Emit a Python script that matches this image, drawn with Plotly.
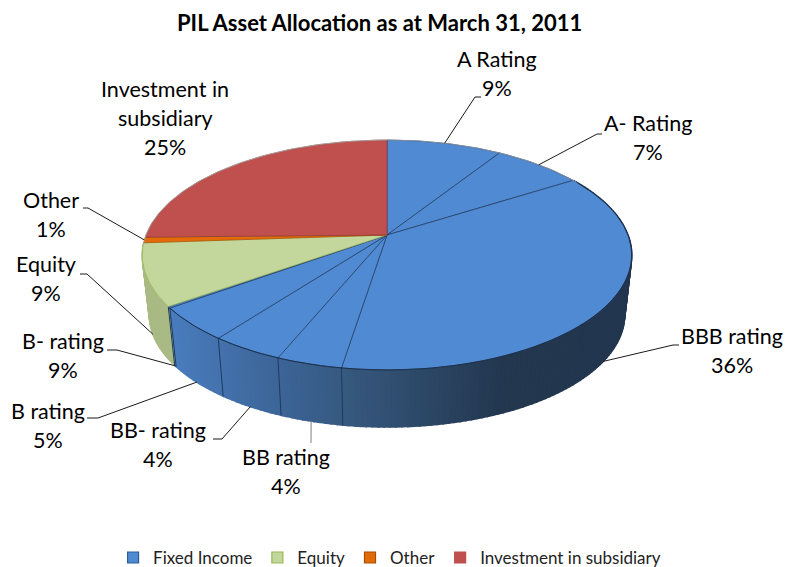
import numpy as np
import plotly.graph_objects as go

# ---- data ----
slices = ["A Rating", "A- Rating", "BBB rating", "BB rating", "BB- rating",
          "B rating", "B- rating", "Equity", "Other", "Investment in subsidiary"]
# drawn sizes of the slices (% of the circle)
values = [9.0, 7.0, 36.5, 3.7, 4.1, 4.7, 0.2, 8.7, 0.8, 25.3]
# the percentages printed on the labels (as printed in the source)
printed = ["9%", "7%", "36%", "4%", "4%", "5%", "9%", "9%", "1%", "25%"]
groups = ["Fixed Income", "Fixed Income", "Fixed Income", "Fixed Income", "Fixed Income",
          "Fixed Income", "Fixed Income", "Equity", "Other", "Investment in subsidiary"]
legend_names = ["Fixed Income", "Equity", "Other", "Investment in subsidiary"]
title_text = "PIL Asset Allocation as at March 31, 2011"

# ---- styles ----
top_color = {"Fixed Income": "#508AD3", "Equity": "#C3D69B", "Other": "#E36C0A",
             "Investment in subsidiary": "#C0504D"}
edge_color = {"Fixed Income": "#2F5C94", "Equity": "#98B954", "Other": "#A84F07",
              "Investment in subsidiary": "#8C3836"}
FONT = "Lato"

# ---- layout of the projected disc ----
CX, CY, A_TOP, B_TOP = 387.0, 235.0, 241.0, 111.5
CY_LOW, A_LOW, B_LOW = 295.5, 234.0, 108.6
K = 0.174

label_layout = {  # label centre x, first-line y, elbow points, line height 29
    "A Rating": (497, 59, [(475, 97), (481, 97)]),
    "A- Rating": (648, 123, [(597, 134), (602, 134)]),
    "BBB rating": (732, 336, [(673, 345), (679, 345)]),
    "BB rating": (286, 457, [(311, 443)]),
    "BB- rating": (158, 430, [(222, 439), (213, 439)]),
    "B rating": (48, 411, [(98, 418), (87, 418)]),
    "B- rating": (63, 341, [(117, 350), (107, 350)]),
    "Equity": (46, 264, [(87, 274), (80, 274)]),
    "Other": (51, 200, [(88, 208), (83, 208)]),
    "Investment in subsidiary": (165, 89, []),
}
label_lines = {"Investment in subsidiary": ["Investment in", "subsidiary"]}


def rim(deg, low=False):
    t = np.radians(deg)
    X, Y = np.sin(t), np.cos(t)
    w = 1 + K * Y
    if low:
        return CX + A_LOW * X / w, CY_LOW - B_LOW * Y / w
    return CX + A_TOP * X / w, CY - B_TOP * Y / w


def mix(c1, c2, f):
    a = [int(c1[i:i + 2], 16) for i in (1, 3, 5)]
    b = [int(c2[i:i + 2], 16) for i in (1, 3, 5)]
    return "rgb(%d,%d,%d)" % tuple(round(p + (q - p) * f) for p, q in zip(a, b))


def wall_color(group, x):
    if group == "Equity":
        return "#A9BA84"
    stops = [(170, "#4A7DBE"), (280, "#3C6497"), (345, "#36597F"), (500, "#23374F"), (800, "#22354E")]
    for (x0, c0), (x1, c1) in zip(stops, stops[1:]):
        if x <= x1:
            return mix(c0, c1, max(0, (x - x0) / (x1 - x0)))
    return stops[-1][1]


fig = go.Figure()
cum = np.concatenate([[0], np.cumsum(values)]) * 3.6

# wall: only the slices that face the viewer
for i, g in enumerate(groups):
    a0, a1 = cum[i], cum[i + 1]
    if a1 < 60 or g in ("Other", "Investment in subsidiary"):
        continue
    n = max(2, int((a1 - a0) / 1.2))
    ed = np.linspace(a0, a1, n + 1)
    for p, q in zip(ed[:-1], ed[1:]):
        x1, y1 = rim(p)
        x2, y2 = rim(q)
        x3, y3 = rim(q, True)
        x4, y4 = rim(p, True)
        col = wall_color(g, (x1 + x2 + x3 + x4) / 4)
        fig.add_trace(go.Scatter(x=[x1, x2, x3, x4, x1], y=[y1, y2, y3, y4, y1], mode="lines",
                                 fill="toself", fillcolor=col, line=dict(color=col, width=1.6),
                                 hoverinfo="skip", showlegend=False))
# wall seams
for i in range(2, 7):
    x1, y1 = rim(cum[i + 1])
    x2, y2 = rim(cum[i + 1], True)
    fig.add_trace(go.Scatter(x=[x1, x2], y=[y1, y2], mode="lines",
                             line=dict(color="#1F3A5F", width=1), hoverinfo="skip", showlegend=False))

# top face
for i, (name, g) in enumerate(zip(slices, groups)):
    ang = np.linspace(cum[i], cum[i + 1], max(3, int(values[i] * 4)))
    xs, ys = rim(ang)
    fig.add_trace(go.Scatter(x=np.r_[CX, xs, CX], y=np.r_[CY, ys, CY], mode="lines", fill="toself",
                             fillcolor=top_color[g], line=dict(color="#1F3A5F" if g == "Fixed Income" else edge_color[g], width=0.7),
                             name=name, text=[f"{name}: {printed[i]}"], hoverinfo="text", showlegend=False))
# soft outline of back rim, darker along the front
ang = np.linspace(0, 360, 361)
xs, ys = rim(ang)
fig.add_trace(go.Scatter(x=xs[:60], y=ys[:60], mode="lines", line=dict(color="#8A97A8", width=0.8),
                         hoverinfo="skip", showlegend=False))
fig.add_trace(go.Scatter(x=xs[265:], y=ys[265:], mode="lines", line=dict(color="#A9A9A9", width=0.8),
                         hoverinfo="skip", showlegend=False))
fig.add_trace(go.Scatter(x=xs[60:235], y=ys[60:235], mode="lines", line=dict(color="#1A2B40", width=0.8),
                         hoverinfo="skip", showlegend=False))

# leaders and labels
annotations = []
for i, name in enumerate(slices):
    lx, ly, elbow = label_layout[name]
    lines = label_lines.get(name, [name]) + [printed[i]]
    for j, t in enumerate(lines):
        annotations.append(dict(x=lx, y=ly + 29 * j, text=t, showarrow=False, xanchor="center", yanchor="middle",
                                font=dict(family=FONT, size=21.5, color="#000000")))
    if not elbow:
        continue
    mid = (cum[i] + cum[i + 1]) / 2
    ax, ay = rim(mid, low=60 < mid < 262)
    fig.add_trace(go.Scatter(x=[ax] + [p[0] for p in elbow], y=[ay] + [p[1] for p in elbow], mode="lines",
                             line=dict(color="#7F7F7F" if name == "BB rating" else "#1A1A1A", width=1),
                             hoverinfo="skip", showlegend=False))

# legend
for n in legend_names:
    fig.add_trace(go.Scatter(x=[None], y=[None], mode="markers", name=n,
                             marker=dict(symbol="square", size=11, color=top_color[n],
                                         line=dict(color=edge_color[n] if n != "Investment in subsidiary" else top_color[n], width=1.2))))

annotations.append(dict(x=379, y=22, text=f"<b>{title_text}</b>", showarrow=False, xanchor="center", yanchor="middle",
                        font=dict(family=FONT, size=22, color="#000000")))

fig.update_layout(
    width=787, height=567, margin=dict(l=0, r=0, t=0, b=0, autoexpand=False),
    paper_bgcolor="white", plot_bgcolor="white",
    xaxis=dict(range=[0, 787], visible=False, fixedrange=True),
    yaxis=dict(range=[567, 0], visible=False, fixedrange=True),
    annotations=annotations,
    legend=dict(orientation="h", x=0.495, xanchor="center", y=0.016, yanchor="middle",
                font=dict(family=FONT, size=17, color="#222222"), itemwidth=30, tracegroupgap=0,
                bgcolor="rgba(0,0,0,0)"),
)
fig.write_html("out.html", config={"displayModeBar": False},
               post_script="document.body.style.margin='0';document.body.style.overflow='hidden';")
